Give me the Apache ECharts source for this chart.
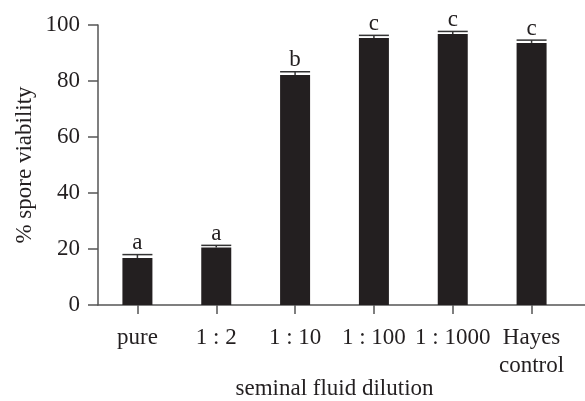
<!DOCTYPE html>
<html>
<head>
<meta charset="utf-8">
<script src="https://cdn.jsdelivr.net/npm/echarts@6/dist/echarts.min.js"></script>
<style>html,body{margin:0;padding:0;background:#fff}#c{width:585px;height:401px}</style>
</head>
<body>
<div id="c"></div>
<script>
const categories = ['pure', '1 : 2', '1 : 10', '1 : 100', '1 : 1000', 'Hayes\ncontrol'];
const viability = [16.8, 20.5, 82.1, 95.4, 96.8, 93.6];
const errors = [1.2, 0.8, 1.2, 0.9, 0.9, 1.0];
const letters = ['a', 'a', 'b', 'c', 'c', 'c'];
const yTicks = [0, 20, 40, 60, 80, 100];

const FONT = 'Liberation Serif';
const FS = 23;
const TXT = '#231f20';
const AX = '#555555';

const chart = echarts.init(document.getElementById('c'));
chart.setOption({
  animation: false,
  backgroundColor: '#fff',
  grid: [
    {left: 98, right: 14, top: 25, bottom: 96, containLabel: false, outerBoundsMode: 'none'},
    {left: 98, right: 0, top: 25, bottom: 96, containLabel: false, outerBoundsMode: 'none'}
  ],
  xAxis: [
    {
      type: 'category', data: categories, gridIndex: 0,
      axisLine: {show: false},
      axisTick: {show: true, alignWithLabel: true, length: 9, lineStyle: {color: AX, width: 1.5}},
      axisLabel: {fontFamily: FONT, fontSize: FS, color: TXT, margin: 19, lineHeight: 28, interval: 0},
      name: 'seminal fluid dilution', nameLocation: 'middle', nameGap: 72, nameMoveOverlap: false,
      nameTextStyle: {fontFamily: FONT, fontSize: FS, color: TXT}
    },
    {
      type: 'value', gridIndex: 1, min: 0, max: 1,
      axisLine: {show: true, lineStyle: {color: AX, width: 1.5}},
      axisTick: {show: false}, axisLabel: {show: false}, splitLine: {show: false}
    }
  ],
  yAxis: [
    {
      type: 'value', gridIndex: 0, min: 0, max: 100, interval: 20,
      axisLine: {show: true, lineStyle: {color: AX, width: 1.5}},
      axisTick: {show: true, length: 10, lineStyle: {color: AX, width: 1.5}},
      axisLabel: {fontFamily: FONT, fontSize: FS, color: TXT, margin: 18,
        formatter: v => yTicks.includes(v) ? String(v) : ''},
      splitLine: {show: false},
      name: '% spore viability', nameLocation: 'middle', nameGap: 62, nameRotate: 90, nameMoveOverlap: false,
      nameTextStyle: {fontFamily: FONT, fontSize: FS, color: TXT}
    },
    {type: 'value', gridIndex: 1, min: 0, max: 1, show: false}
  ],
  series: [
    {
      type: 'bar', xAxisIndex: 0, yAxisIndex: 0, data: viability, barWidth: 30,
      itemStyle: {color: '#231f20'}
    },
    {
      type: 'custom', xAxisIndex: 0, yAxisIndex: 0,
      data: viability.map((v, i) => [i, v, errors[i], letters[i]]),
      renderItem: function (params, api) {
        const i = api.value(0), v = api.value(1), e = api.value(2);
        const top = api.coord([i, v]);
        const cap = api.coord([i, v + e]);
        const hw = 15;
        return {
          type: 'group',
          children: [
            {type: 'line', shape: {x1: top[0], y1: top[1], x2: cap[0], y2: cap[1]},
              style: {stroke: '#333', lineWidth: 1.5}},
            {type: 'line', shape: {x1: cap[0] - hw, y1: cap[1], x2: cap[0] + hw, y2: cap[1]},
              style: {stroke: '#333', lineWidth: 1.5}},
            {type: 'text', x: cap[0], y: cap[1],
              style: {text: letters[params.dataIndex], fontFamily: FONT, fontSize: FS, fill: TXT,
                align: 'center', verticalAlign: 'bottom'}}
          ]
        };
      },
      z: 5
    }
  ]
});
</script>
</body>
</html>
